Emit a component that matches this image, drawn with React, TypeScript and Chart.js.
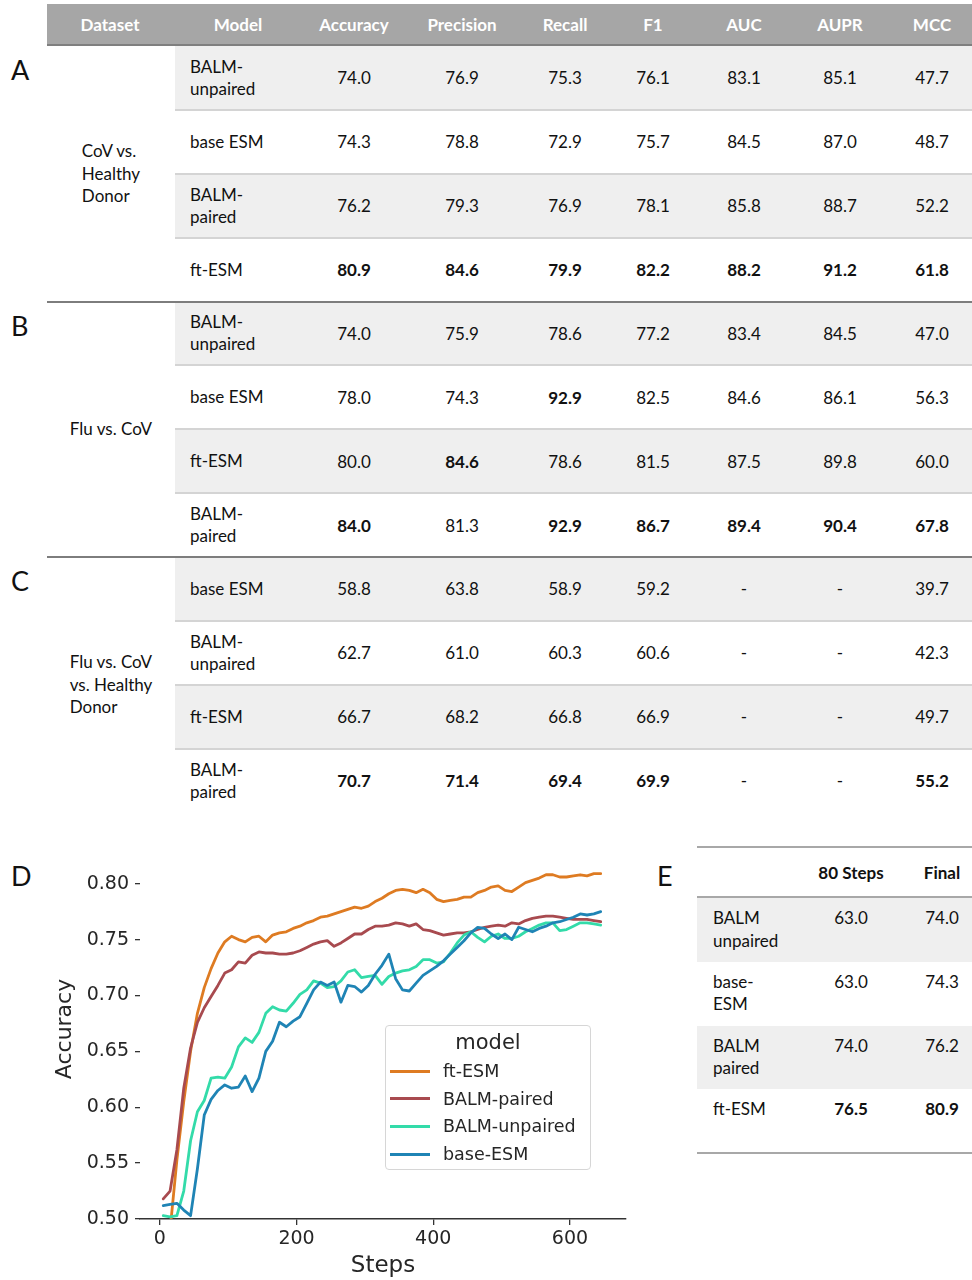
import React, { useEffect, useRef } from "react";
import { Chart, registerables } from "chart.js";

Chart.register(...registerables);

// ---------- Table data (panels A, B, C) ----------
const metricNames = ["Accuracy", "Precision", "Recall", "F1", "AUC", "AUPR", "MCC"];
const sectionLetters = ["A", "B", "C"];
const sectionDatasets = ["CoV vs.\nHealthy\nDonor", "Flu vs. CoV", "Flu vs. CoV\nvs. Healthy\nDonor"];

const modelsA = ["BALM-\nunpaired", "base ESM", "BALM-\npaired", "ft-ESM"];
const valuesA = [
  [74.0, 76.9, 75.3, 76.1, 83.1, 85.1, 47.7],
  [74.3, 78.8, 72.9, 75.7, 84.5, 87.0, 48.7],
  [76.2, 79.3, 76.9, 78.1, 85.8, 88.7, 52.2],
  [80.9, 84.6, 79.9, 82.2, 88.2, 91.2, 61.8],
];
const modelsB = ["BALM-\nunpaired", "base ESM", "ft-ESM", "BALM-\npaired"];
const valuesB = [
  [74.0, 75.9, 78.6, 77.2, 83.4, 84.5, 47.0],
  [78.0, 74.3, 92.9, 82.5, 84.6, 86.1, 56.3],
  [80.0, 84.6, 78.6, 81.5, 87.5, 89.8, 60.0],
  [84.0, 81.3, 92.9, 86.7, 89.4, 90.4, 67.8],
];
const modelsC = ["base ESM", "BALM-\nunpaired", "ft-ESM", "BALM-\npaired"];
const valuesC = [
  [58.8, 63.8, 58.9, 59.2, null, null, 39.7],
  [62.7, 61.0, 60.3, 60.6, null, null, 42.3],
  [66.7, 68.2, 66.8, 66.9, null, null, 49.7],
  [70.7, 71.4, 69.4, 69.9, null, null, 55.2],
];

// ---------- Panel E data ----------
const eHeaders = ["80 Steps", "Final"];
const eModels = ["BALM\nunpaired", "base-\nESM", "BALM\npaired", "ft-ESM"];
const e80Steps = [63.0, 63.0, 74.0, 76.5];
const eFinal = [74.0, 74.3, 76.2, 80.9];

// ---------- Panel D data ----------
const steps = [
  5, 15, 25, 35, 45, 55, 65, 75, 85, 95, 105, 115, 125, 135, 145, 155, 165, 175, 185, 195,
  205, 215, 225, 235, 245, 255, 265, 275, 285, 295, 305, 315, 325, 335, 345, 355, 365, 375, 385, 395,
  405, 415, 425, 435, 445, 455, 465, 475, 485, 495, 505, 515, 525, 535, 545, 555, 565, 575, 585, 595,
  605, 615, 625, 635, 645,
];
const ftEsm = [
  0.47, 0.49, 0.553, 0.605, 0.65, 0.684, 0.707, 0.724, 0.738, 0.748, 0.753, 0.75, 0.748, 0.752, 0.753, 0.748, 0.754, 0.756, 0.757, 0.76,
  0.762, 0.765, 0.767, 0.77, 0.771, 0.773, 0.775, 0.777, 0.779, 0.778, 0.78, 0.784, 0.787, 0.791, 0.794, 0.795, 0.794, 0.792, 0.795, 0.792,
  0.786, 0.784, 0.785, 0.786, 0.788, 0.788, 0.792, 0.794, 0.797, 0.798, 0.794, 0.793, 0.797, 0.801, 0.803, 0.805, 0.808, 0.808, 0.806, 0.806,
  0.807, 0.808, 0.807, 0.809, 0.809,
];
const balmPaired = [
  0.518, 0.525, 0.562, 0.617, 0.653, 0.676, 0.689, 0.699, 0.709, 0.72, 0.723, 0.73, 0.729, 0.736, 0.739, 0.738, 0.738, 0.737, 0.737, 0.738,
  0.74, 0.743, 0.746, 0.748, 0.749, 0.744, 0.747, 0.751, 0.755, 0.755, 0.759, 0.762, 0.762, 0.763, 0.765, 0.764, 0.762, 0.764, 0.759, 0.758,
  0.756, 0.754, 0.755, 0.756, 0.756, 0.757, 0.759, 0.761, 0.762, 0.763, 0.762, 0.765, 0.764, 0.767, 0.769, 0.77, 0.771, 0.771, 0.77, 0.769,
  0.768, 0.768, 0.768, 0.767, 0.766,
];
const balmUnpaired = [
  0.503, 0.502, 0.503, 0.525, 0.57, 0.596, 0.606, 0.626, 0.627, 0.626, 0.636, 0.654, 0.662, 0.658, 0.667, 0.684, 0.69, 0.687, 0.686, 0.693,
  0.701, 0.705, 0.713, 0.711, 0.707, 0.708, 0.713, 0.721, 0.723, 0.716, 0.717, 0.718, 0.71, 0.717, 0.72, 0.722, 0.723, 0.726, 0.732, 0.732,
  0.729, 0.73, 0.738, 0.747, 0.754, 0.757, 0.752, 0.748, 0.753, 0.755, 0.751, 0.751, 0.753, 0.757, 0.76, 0.763, 0.765, 0.765, 0.758, 0.759,
  0.762, 0.765, 0.765, 0.764, 0.763,
];
const baseEsm = [
  0.512, 0.513, 0.514, 0.508, 0.503, 0.545, 0.593, 0.607, 0.615, 0.62, 0.617, 0.618, 0.628, 0.614, 0.626, 0.65, 0.659, 0.676, 0.672, 0.677,
  0.681, 0.693, 0.705, 0.712, 0.709, 0.712, 0.694, 0.709, 0.708, 0.703, 0.709, 0.719, 0.727, 0.737, 0.715, 0.705, 0.704, 0.711, 0.718, 0.722,
  0.726, 0.731, 0.737, 0.743, 0.749, 0.756, 0.761, 0.76, 0.755, 0.751, 0.755, 0.75, 0.761, 0.759, 0.757, 0.76, 0.762, 0.765, 0.766, 0.768,
  0.77, 0.773, 0.772, 0.773, 0.775,
];
const seriesNames = ["ft-ESM", "BALM-paired", "BALM-unpaired", "base-ESM"];
const seriesValues = [ftEsm, balmPaired, balmUnpaired, baseEsm];
const seriesColors = ["#de7b22", "#a84a4f", "#33dba9", "#1f84b5"];
const xTickValues = [0, 200, 400, 600];
const yTickValues = [0.5, 0.55, 0.6, 0.65, 0.7, 0.75, 0.8];

// ---------- Layout constants ----------
const TABLE_FONT = "Lato, 'Open Sans', sans-serif";
const CHART_FONT = "'DejaVu Sans', sans-serif";
const colCenters = [354, 462, 565, 653, 744, 840, 932];
const sectionTop = [46, 301.5, 557];
const rowH = 63.9;

function fmt(v: number | null) {
  return v === null ? "-" : v.toFixed(1);
}

function colMax(vals: (number | null)[][], c: number) {
  let m = -Infinity;
  vals.forEach((r) => {
    const v = r[c];
    if (v !== null && v > m) m = v;
  });
  return m;
}

function Section({ idx, models, values }: { idx: number; models: string[]; values: (number | null)[][] }) {
  const top = sectionTop[idx];
  const els: React.ReactNode[] = [];
  models.forEach((m, r) => {
    const y = top + r * rowH;
    if (r % 2 === 0) {
      els.push(
        <div key={"bg" + r} style={{ position: "absolute", left: 175, top: y, width: 797, height: rowH, background: "#efefef" }} />
      );
    }
    if (r > 0) {
      els.push(
        <div key={"sep" + r} style={{ position: "absolute", left: 175, top: y - 1, width: 797, height: 2, background: "#d4d4d4" }} />
      );
    }
    els.push(
      <div
        key={"m" + r}
        style={{
          position: "absolute",
          left: 190,
          top: y,
          height: rowH,
          display: "flex",
          alignItems: "center",
          whiteSpace: "pre-line",
          lineHeight: "22px",
        }}
      >
        {m}
      </div>
    );
    values[r].forEach((v, c) => {
      const bold = v !== null && v === colMax(values, c);
      els.push(
        <div
          key={"v" + r + "_" + c}
          style={{
            position: "absolute",
            left: colCenters[c] - 50,
            width: 100,
            top: y,
            height: rowH,
            display: "flex",
            alignItems: "center",
            justifyContent: "center",
            fontWeight: bold ? 700 : 400,
          }}
        >
          {fmt(v)}
        </div>
      );
    });
  });
  const secH = rowH * models.length;
  return (
    <>
      {els}
      <div
        style={{
          position: "absolute",
          left: 47,
          width: 128,
          top: top,
          height: secH,
          display: "flex",
          alignItems: "center",
          justifyContent: "center",
        }}
      >
        <div style={{ whiteSpace: "pre-line", lineHeight: "22.5px", textAlign: "left" }}>{sectionDatasets[idx]}</div>
      </div>
      <div style={{ position: "absolute", left: 11, top: top + 8, fontSize: 27, lineHeight: "32px" }}>{sectionLetters[idx]}</div>
      {idx > 0 && (
        <div style={{ position: "absolute", left: 47, top: top - 1, width: 925, height: 2, background: "#7d7d7d" }} />
      )}
    </>
  );
}

function LineChart() {
  const ref = useRef<HTMLCanvasElement>(null);
  useEffect(() => {
    const canvas = ref.current;
    if (!canvas) return;
    const datasets = seriesNames.map((name, i) => ({
      label: name,
      data: steps.map((s, j) => ({ x: s, y: seriesValues[i][j] })),
      borderColor: seriesColors[i],
      backgroundColor: seriesColors[i],
      borderWidth: 2.8,
      pointRadius: 0,
      tension: 0,
      borderJoinStyle: "round" as const,
      borderCapStyle: "round" as const,
      order: seriesNames.length - 1 - i,
    }));
    const chart = new Chart(canvas, {
      type: "line",
      data: { datasets },
      options: {
        responsive: false,
        animation: false,
        devicePixelRatio: 1,
        layout: { padding: { left: 0, right: 14, top: 9, bottom: 0 } },
        plugins: { legend: { display: false }, tooltip: { enabled: false } },
        scales: {
          x: {
            type: "linear",
            min: -29,
            max: 682,
            afterBuildTicks: (s: any) => {
              s.ticks = xTickValues.map((v) => ({ value: v }));
            },
            afterFit: (s: any) => {
              s.height = 61;
              s.paddingLeft = 0;
              s.paddingRight = 0;
            },
            ticks: {
              font: { family: CHART_FONT, size: 19 },
              color: "#262626",
              padding: 3,
              maxRotation: 0,
              callback: (v: any) => String(v),
            },
            grid: { drawOnChartArea: false, drawTicks: true, tickLength: 6, color: "#333", lineWidth: 1.3 },
            border: { display: true, color: "#333", width: 1.5 },
            title: {
              display: true,
              text: "Steps",
              font: { family: CHART_FONT, size: 23 },
              color: "#262626",
              padding: { top: 0, bottom: 0 },
            },
          },
          y: {
            type: "linear",
            min: 0.5,
            max: 0.84,
            afterBuildTicks: (s: any) => {
              s.ticks = yTickValues.map((v) => ({ value: v }));
            },
            afterFit: (s: any) => {
              s.width = 140;
              s.paddingTop = 0;
              s.paddingBottom = 0;
            },
            ticks: {
              font: { family: CHART_FONT, size: 19 },
              color: "#262626",
              padding: 6,
              callback: (v: any) => Number(v).toFixed(2),
            },
            grid: { drawOnChartArea: false, drawTicks: true, tickLength: 5, color: "#333", lineWidth: 1.3 },
            border: { display: false },
            title: {
              display: true,
              text: "Accuracy",
              font: { family: CHART_FONT, size: 22 },
              color: "#262626",
              padding: { top: 52, bottom: 0 },
            },
          },
        },
      },
    } as any);
    return () => chart.destroy();
  }, []);
  return (
    <canvas
      ref={ref}
      width={640}
      height={450}
      style={{ position: "absolute", left: 0, top: 830, width: 640, height: 450 }}
    />
  );
}

function Legend() {
  return (
    <div
      style={{
        position: "absolute",
        left: 385,
        top: 1025,
        width: 206,
        height: 145,
        border: "1px solid #d6d6d6",
        borderRadius: 4,
        background: "rgba(255,255,255,0.85)",
        boxSizing: "border-box",
        fontFamily: CHART_FONT,
        color: "#262626",
      }}
    >
      <div style={{ position: "absolute", left: 0, right: 0, top: 3, textAlign: "center", fontSize: 21, lineHeight: "26px" }}>
        model
      </div>
      {seriesNames.map((n, i) => (
        <div
          key={n}
          style={{
            position: "absolute",
            left: 4,
            top: 33 + i * 27.7,
            height: 24,
            display: "flex",
            alignItems: "center",
            whiteSpace: "nowrap",
          }}
        >
          <span style={{ display: "inline-block", width: 40, height: 3, background: seriesColors[i] }} />
          <span style={{ marginLeft: 13, fontSize: 17.5 }}>{n}</span>
        </div>
      ))}
    </div>
  );
}

function PanelE() {
  const eTop = 898;
  const eRowH = 63.8;
  const eMax80 = Math.max(...e80Steps);
  const eMaxFinal = Math.max(...eFinal);
  const eCols = [851, 942];
  return (
    <>
      <div style={{ position: "absolute", left: 657, top: 860, fontSize: 27, lineHeight: "32px" }}>E</div>
      <div style={{ position: "absolute", left: 697, top: 846, width: 275, height: 2, background: "#a8a8a8" }} />
      {eHeaders.map((h, i) => (
        <div
          key={h}
          style={{
            position: "absolute",
            left: eCols[i] - 50,
            width: 100,
            top: 862,
            lineHeight: "22px",
            textAlign: "center",
            fontWeight: 700,
          }}
        >
          {h}
        </div>
      ))}
      {eModels.map((m, r) => {
        const y = eTop + r * eRowH;
        return (
          <React.Fragment key={m}>
            {r % 2 === 0 && (
              <div style={{ position: "absolute", left: 697, top: y, width: 275, height: eRowH, background: "#efefef" }} />
            )}
            <div style={{ position: "absolute", left: 713, top: y + 9, whiteSpace: "pre-line", lineHeight: "22.5px" }}>{m}</div>
            {[e80Steps[r], eFinal[r]].map((v, c) => (
              <div
                key={c}
                style={{
                  position: "absolute",
                  left: eCols[c] - 50,
                  width: 100,
                  top: y + 9,
                  lineHeight: "22px",
                  textAlign: "center",
                  fontWeight: v === (c === 0 ? eMax80 : eMaxFinal) ? 700 : 400,
                }}
              >
                {v.toFixed(1)}
              </div>
            ))}
          </React.Fragment>
        );
      })}
      <div style={{ position: "absolute", left: 697, top: eTop - 2, width: 275, height: 2, background: "#a8a8a8" }} />
      <div style={{ position: "absolute", left: 697, top: eTop + 4 * eRowH - 1, width: 275, height: 2, background: "#a8a8a8" }} />
    </>
  );
}

export default function App() {
  const headerLabels = ["Dataset", "Model", ...metricNames];
  const headerCenters = [110, 238, ...colCenters];
  return (
    <div
      style={{
        position: "absolute",
        left: 0,
        top: 0,
        width: 972,
        height: 1280,
        overflow: "hidden",
        background: "#fff",
        fontFamily: TABLE_FONT,
        fontSize: 17,
        color: "#111",
      }}
    >
      {/* header */}
      <div style={{ position: "absolute", left: 47, top: 4, width: 925, height: 40, background: "#a6a6a6" }} />
      <div style={{ position: "absolute", left: 47, top: 44, width: 925, height: 2, background: "#7f7f7f" }} />
      {headerLabels.map((h, i) => (
        <div
          key={h}
          style={{
            position: "absolute",
            left: headerCenters[i] - 60,
            width: 120,
            top: 4,
            height: 40,
            display: "flex",
            alignItems: "center",
            justifyContent: "center",
            color: "#fff",
            fontWeight: 700,
          }}
        >
          {h}
        </div>
      ))}
      <Section idx={0} models={modelsA} values={valuesA} />
      <Section idx={1} models={modelsB} values={valuesB} />
      <Section idx={2} models={modelsC} values={valuesC} />

      <div style={{ position: "absolute", left: 11, top: 860, fontSize: 27, lineHeight: "32px" }}>D</div>
      <LineChart />
      <Legend />
      <PanelE />
    </div>
  );
}
